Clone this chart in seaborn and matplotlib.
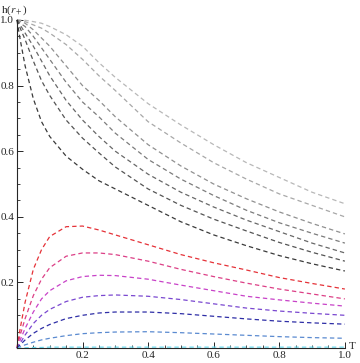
import matplotlib
matplotlib.use("Agg")
import matplotlib.pyplot as plt
import seaborn as sns
import pandas as pd
from matplotlib.ticker import MultipleLocator

# temperature grid shared by all curves
T = [0, 0.01, 0.025, 0.05, 0.075, 0.1, 0.15, 0.2, 0.25, 0.3, 0.4, 0.5, 0.6, 0.7, 0.8, 0.9, 1.0]

# grey family, light to dark
g1 = [1.0, 1.0, 0.999, 0.995, 0.99, 0.98, 0.955, 0.92, 0.87, 0.825, 0.745, 0.68, 0.62, 0.565, 0.52, 0.475, 0.44]
g2 = [1.0, 0.998, 0.995, 0.985, 0.975, 0.96, 0.925, 0.88, 0.83, 0.785, 0.69, 0.625, 0.565, 0.515, 0.47, 0.435, 0.40]
g3 = [1.0, 0.996, 0.99, 0.97, 0.945, 0.92, 0.86, 0.80, 0.755, 0.705, 0.62, 0.555, 0.50, 0.455, 0.415, 0.38, 0.348]
g4 = [1.0, 0.99, 0.98, 0.95, 0.915, 0.88, 0.81, 0.75, 0.705, 0.655, 0.575, 0.515, 0.465, 0.42, 0.382, 0.35, 0.32]
g5 = [1.0, 0.985, 0.96, 0.92, 0.875, 0.83, 0.755, 0.695, 0.645, 0.60, 0.53, 0.475, 0.43, 0.39, 0.355, 0.32, 0.29]
g6 = [1.0, 0.975, 0.94, 0.875, 0.815, 0.77, 0.695, 0.64, 0.595, 0.552, 0.485, 0.435, 0.393, 0.357, 0.322, 0.292, 0.265]
g7 = [1.0, 0.94, 0.86, 0.76, 0.69, 0.645, 0.585, 0.545, 0.51, 0.485, 0.435, 0.385, 0.345, 0.312, 0.282, 0.257, 0.235]

# coloured family, top to bottom
c1 = [0, 0.06, 0.14, 0.24, 0.30, 0.34, 0.37, 0.372, 0.36, 0.345, 0.315, 0.285, 0.26, 0.238, 0.215, 0.197, 0.18]
c2 = [0, 0.04, 0.09, 0.16, 0.21, 0.245, 0.28, 0.29, 0.29, 0.285, 0.265, 0.24, 0.218, 0.198, 0.18, 0.165, 0.15]
c3 = [0, 0.025, 0.06, 0.11, 0.15, 0.175, 0.205, 0.218, 0.222, 0.221, 0.21, 0.192, 0.175, 0.158, 0.147, 0.137, 0.128]
c4 = [0, 0.015, 0.04, 0.075, 0.10, 0.118, 0.142, 0.155, 0.16, 0.162, 0.158, 0.148, 0.135, 0.122, 0.113, 0.106, 0.10]
c5 = [0, 0.01, 0.025, 0.045, 0.06, 0.072, 0.09, 0.10, 0.107, 0.11, 0.11, 0.105, 0.097, 0.089, 0.082, 0.077, 0.073]
c6 = [0, 0.004, 0.01, 0.018, 0.025, 0.03, 0.038, 0.044, 0.047, 0.049, 0.05, 0.047, 0.043, 0.039, 0.035, 0.032, 0.03]
c7 = [0, 0.0005, 0.001, 0.002, 0.002, 0.003, 0.003, 0.003, 0.003, 0.003, 0.003, 0.003, 0.003, 0.003, 0.003, 0.003, 0.003]

grey_colors = ['#b8b8b8', '#a8a8a8', '#909090', '#7c7c7c', '#686868', '#545454', '#3a3a3a']
hue_colors = ['#e53238', '#dc3f86', '#c842c8', '#7a48d0', '#2e2ea6', '#5a8ad0', '#6cdcf0']

tick_labels = ['0.2', '0.4', '0.6', '0.8', '1.0']

sns.set_style("ticks")
plt.rcParams['font.family'] = ['Liberation Serif', 'DejaVu Serif']
plt.rcParams['mathtext.fontset'] = 'stix'

fig = plt.figure(figsize=(3.6, 3.63), dpi=100)
ax = fig.add_axes([0.047, 0.041, 0.911, 0.904])

series = [g1, g2, g3, g4, g5, g6, g7, c1, c2, c3, c4, c5, c6, c7]
colors = grey_colors + hue_colors
for vals, col in zip(series, colors):
    df = pd.DataFrame({'T': T, 'h': vals})
    sns.lineplot(data=df, x='T', y='h', color=col, ax=ax, lw=0.9,
                 linestyle=(0, (3.5, 2.5)), clip_on=False)

ax.set_xlim(0, 1)
ax.set_ylim(0, 1)
ax.set_xlabel('')
ax.set_ylabel('')
sns.despine(ax=ax)
ax.spines['left'].set_linewidth(0.8)
ax.spines['bottom'].set_linewidth(0.8)

ticks = [0.2, 0.4, 0.6, 0.8, 1.0]
ax.set_xticks(ticks)
ax.set_xticklabels(tick_labels)
ax.set_yticks(ticks)
ax.set_yticklabels(tick_labels)
ax.xaxis.set_minor_locator(MultipleLocator(0.05))
ax.yaxis.set_minor_locator(MultipleLocator(0.05))
ax.tick_params(which='major', direction='in', length=4, width=0.7, labelsize=8, pad=2)
ax.tick_params(which='minor', direction='in', length=2, width=0.6)

fig.text(0.003, 0.99, r'h($r_+$)', fontsize=8, va='top', ha='left')
fig.text(0.968, 0.045, 'T', fontsize=8, va='center', ha='left')

fig.savefig('out.png', dpi=100)
